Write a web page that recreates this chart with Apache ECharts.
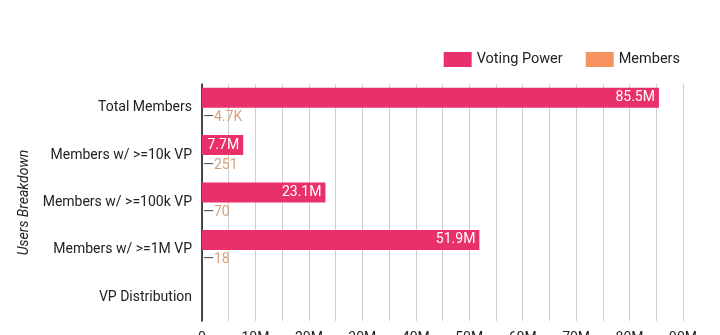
<!DOCTYPE html>
<html>
<head>
<meta charset="utf-8">
<script src="https://cdn.jsdelivr.net/npm/echarts@6/dist/echarts.min.js"></script>
<style>
html,body{margin:0;padding:0;background:#fff;}
#chart{width:720px;height:335px;}
</style>
</head>
<body>
<div id="chart"></div>
<script>
const categories = ['Total Members', 'Members w/ >=10k VP', 'Members w/ >=100k VP', 'Members w/ >=1M VP', 'VP Distribution'];
const votingPower = [85500000, 7700000, 23100000, 51900000, null];
const members = [4700, 251, 70, 18, null];
const seriesNames = ['Voting Power', 'Members'];
const axisName = 'Users Breakdown';

function fmtM(v) { return v === 0 ? '0' : (v / 1e6) + 'M'; }
function fmtMember(v) { return v >= 1000 ? (v / 1000).toFixed(1) + 'K' : String(v); }

const chart = echarts.init(document.getElementById('chart'), null, {renderer: 'canvas'});
chart.setOption({
  animation: false,
  textStyle: {fontFamily: 'Roboto'},
  legend: {
    data: seriesNames,
    icon: 'rect',
    right: 35,
    top: 47,
    itemWidth: 28,
    itemHeight: 15,
    itemGap: 23,
    textStyle: {fontSize: 14.5, color: '#222', fontFamily: 'Roboto'}
  },
  grid: {left: 202, right: 37, top: 84, bottom: 14, containLabel: false, outerBoundsMode: 'none'},
  xAxis: {
    type: 'value',
    min: 0,
    max: 90000000,
    interval: 10000000,
    axisLine: {show: false},
    axisTick: {show: false},
    axisLabel: {formatter: fmtM, fontSize: 14, color: '#222', margin: 10},
    splitLine: {show: true, lineStyle: {color: '#cfcfcf', width: 1}},
    minorTick: {show: false, splitNumber: 2},
    minorSplitLine: {show: true, lineStyle: {color: '#cfcfcf', width: 1}}
  },
  yAxis: {
    type: 'category',
    data: categories,
    inverse: true,
    name: axisName,
    nameLocation: 'middle',
    nameGap: 165,
    nameTextStyle: {fontSize: 14, fontStyle: 'italic', color: '#222'},
    axisLine: {show: true, lineStyle: {color: '#111', width: 1.5}},
    axisTick: {show: false},
    axisLabel: {fontSize: 14, color: '#222', margin: 10}
  },
  series: [
    {
      name: seriesNames[0],
      type: 'bar',
      data: votingPower,
      barWidth: 20,
      barGap: '0%',
      itemStyle: {color: '#E8316B'},
      label: {
        show: true,
        position: 'insideRight',
        distance: 4,
        color: '#fff',
        fontSize: 14,
        formatter: p => (p.value / 1e6).toFixed(1) + 'M'
      }
    },
    {
      name: seriesNames[1],
      type: 'bar',
      data: members,
      barWidth: 20,
      barGap: '0%',
      itemStyle: {color: '#F7935E'},
      label: {
        show: true,
        position: 'right',
        distance: 1,
        formatter: p => '{d|—}{v|' + fmtMember(p.value) + '}',
        rich: {
          d: {color: '#555', fontSize: 14},
          v: {color: '#D9A27C', fontSize: 14}
        }
      }
    }
  ]
});
</script>
</body>
</html>
